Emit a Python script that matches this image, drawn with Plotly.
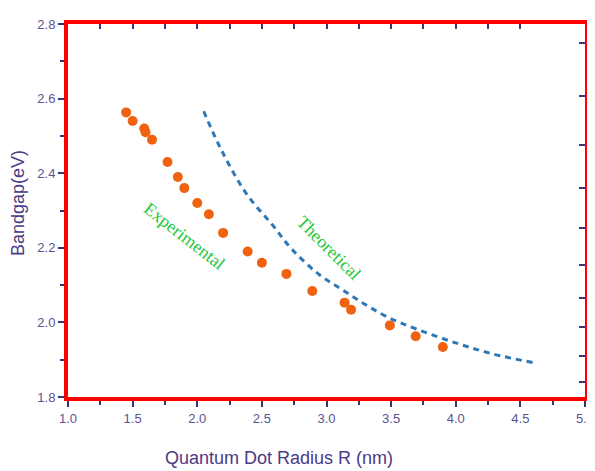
import plotly.graph_objects as go

# Experimental data (orange dots)
exp_radius = [1.45, 1.5, 1.59, 1.6, 1.65, 1.77, 1.85, 1.9, 2.0, 2.09, 2.2,
              2.39, 2.5, 2.69, 2.89, 3.14, 3.19, 3.49, 3.69, 3.9]
exp_gap = [2.563, 2.54, 2.52, 2.51, 2.49, 2.43, 2.39, 2.36, 2.32, 2.29, 2.24,
           2.19, 2.16, 2.13, 2.084, 2.053, 2.034, 1.992, 1.963, 1.934]

# Theoretical curve (blue dashed)
theo_radius = [2.05, 2.19, 2.38, 2.58, 2.73, 2.94, 3.12, 3.3, 3.48, 3.69, 4.0, 4.28, 4.6]
theo_gap = [2.566, 2.46, 2.345, 2.262, 2.197, 2.129, 2.088, 2.048, 2.013, 1.983, 1.945, 1.916, 1.892]

# Irregular inner ticks on the right frame
right_ticks = [2.75, 2.608, 2.476, 2.361, 2.253, 2.155, 2.066, 1.987, 1.911, 1.839]

x_ticks = [1.0, 1.5, 2.0, 2.5, 3.0, 3.5, 4.0, 4.5, 5.0]
y_ticks = [1.8, 2.0, 2.2, 2.4, 2.6, 2.8]

TICKCOL = "#3b3576"
LABCOL = "#5a5394"
TITLECOL = "#4b3a85"
RED = "#ff0000"
GREEN = "#1fc83a"
SERIF = "Liberation Serif, Times New Roman, serif"

fig = go.Figure()
fig.add_trace(go.Scatter(x=theo_radius, y=theo_gap, mode="lines",
                         line=dict(color="#2f78b8", width=3, dash="6px,5px", shape="spline"),
                         showlegend=False))
fig.add_trace(go.Scatter(x=exp_radius, y=exp_gap, mode="markers",
                         marker=dict(color="#f0620f", size=10), showlegend=False))
fig.add_trace(go.Scatter(x=[None], y=[None], xaxis="x2", yaxis="y2", showlegend=False))

fig.update_layout(
    width=595, height=471,
    margin=dict(l=60, r=16, t=9, b=82),
    plot_bgcolor="white", paper_bgcolor="white",
    font=dict(family="Liberation Sans, Arial, sans-serif"),
    xaxis=dict(range=[1.0, 5.0], tickvals=x_ticks, ticktext=[f"{v:.1f}" for v in x_ticks],
               ticks="outside", ticklen=6, tickwidth=2, tickcolor=TICKCOL,
               minor=dict(dtick=0.25, ticks="outside", ticklen=4, tickwidth=2, tickcolor=TICKCOL),
               showline=True, linecolor=RED, linewidth=4, mirror=True,
               showgrid=False, zeroline=False,
               tickfont=dict(size=13, color=LABCOL)),
    yaxis=dict(range=[1.8, 2.8], tickvals=y_ticks, ticktext=[f"{v:.1f}" for v in y_ticks],
               ticks="outside", ticklen=6, tickwidth=2, tickcolor=TICKCOL,
               minor=dict(dtick=0.1, ticks="outside", ticklen=4, tickwidth=2, tickcolor=TICKCOL),
               showline=True, linecolor=RED, linewidth=4, mirror=True,
               showgrid=False, zeroline=False,
               tickfont=dict(size=13, color=LABCOL)),
    xaxis2=dict(range=[1.0, 5.0], overlaying="x", side="top", anchor="y2",
                tickvals=[1.25 + 0.25 * i for i in range(14)],
                ticks="inside", ticklen=5, tickwidth=2, tickcolor=TICKCOL,
                showticklabels=False, showline=False, showgrid=False, zeroline=False),
    yaxis2=dict(range=[1.8, 2.8], overlaying="y", side="right", anchor="x2",
                tickvals=right_ticks,
                ticks="inside", ticklen=6, tickwidth=2, tickcolor=TICKCOL,
                showticklabels=False, showline=False, showgrid=False, zeroline=False),
)

fig.add_annotation(text="Quantum Dot Radius R (nm)", xref="paper", yref="paper",
                   x=0.408, y=0, yshift=-61, showarrow=False,
                   font=dict(size=18, color=TITLECOL), xanchor="center", yanchor="middle")
fig.add_annotation(text="Bandgap(eV)", xref="paper", yref="paper",
                   x=0, y=0.52, xshift=-50, showarrow=False, textangle=-90,
                   font=dict(size=18, color=TITLECOL), xanchor="center", yanchor="middle")
fig.add_annotation(text="Experimental", x=1.9, y=2.232, xref="x", yref="y",
                   showarrow=False, textangle=38,
                   font=dict(size=18, color=GREEN, family=SERIF))
fig.add_annotation(text="Theoretical", x=3.02, y=2.2, xref="x", yref="y",
                   showarrow=False, textangle=45,
                   font=dict(size=18, color=GREEN, family=SERIF))

fig.write_html("out.html")
